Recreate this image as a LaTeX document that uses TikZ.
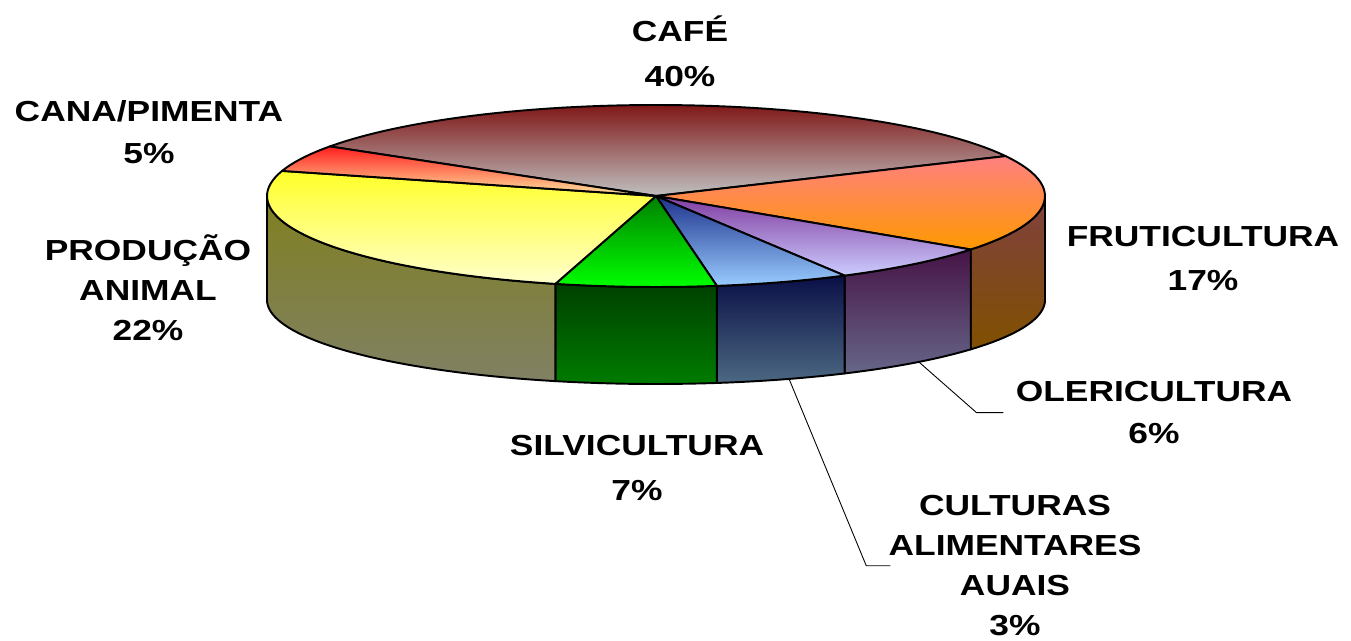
\documentclass[tikz,border=0pt]{standalone}
\usepackage{fontspec}
\setmainfont{Liberation Sans}
\newfontfamily\lblfont[FakeStretch=1.22]{Liberation Sans}

% slice colours (top of gradient A, bottom B)
\definecolor{cafeA}{RGB}{128,24,24}
\definecolor{cafeM}{RGB}{172,155,155}
\definecolor{cafeB}{RGB}{192,192,192}
\definecolor{frutA}{RGB}{255,128,128}
\definecolor{frutB}{RGB}{255,153,0}
\definecolor{frutSA}{RGB}{128,64,64}
\definecolor{frutSB}{RGB}{128,80,0}
\definecolor{oleA}{RGB}{128,60,160}
\definecolor{oleB}{RGB}{204,204,255}
\definecolor{oleSA}{RGB}{70,20,70}
\definecolor{oleSB}{RGB}{102,102,136}
\definecolor{culA}{RGB}{30,50,140}
\definecolor{culB}{RGB}{153,204,255}
\definecolor{culSA}{RGB}{10,15,70}
\definecolor{culSB}{RGB}{76,104,130}
\definecolor{silA}{RGB}{0,128,0}
\definecolor{silB}{RGB}{0,255,0}
\definecolor{silSA}{RGB}{0,64,0}
\definecolor{silSB}{RGB}{0,124,0}
\definecolor{prodA}{RGB}{255,255,40}
\definecolor{prodB}{RGB}{255,255,204}
\definecolor{prodSA}{RGB}{128,128,32}
\definecolor{prodSB}{RGB}{128,128,100}
\definecolor{canaA}{RGB}{255,30,30}
\definecolor{canaB}{RGB}{255,230,160}

\begin{document}
\begin{tikzpicture}[x=0.02cm,y=-0.02cm,
    slice/.style={draw=black,line width=1.1pt,line join=round},
    leader/.style={draw=black,line width=0.5pt},
    lbl/.style={font=\lblfont\bfseries\fontsize{16.5}{#1}\selectfont,
      align=center,anchor=north,inner sep=0pt,
      execute at begin node=\rule{0pt}{0.58cm}}]
  \useasboundingbox (0,0) rectangle (1351,641);

  % side faces (top rim: centre 656,196 radii 389x91; bottom rim: centre 656,300 radii 389x84)
  \draw [slice,top color=frutSA,bottom color=frutSB]
      plot [domain=0:-36,samples=20] ({656+389*cos(\x)},{196-91*sin(\x)})
      -- plot [domain=-36:0,samples=20] ({656+389*cos(\x)},{300-84*sin(\x)}) -- cycle;
  \draw [slice,top color=oleSA,bottom color=oleSB]
      plot [domain=-36:-61,samples=15] ({656+389*cos(\x)},{196-91*sin(\x)})
      -- plot [domain=-61:-36,samples=15] ({656+389*cos(\x)},{300-84*sin(\x)}) -- cycle;
  \draw [slice,top color=culSA,bottom color=culSB]
      plot [domain=-61:-81,samples=12] ({656+389*cos(\x)},{196-91*sin(\x)})
      -- plot [domain=-81:-61,samples=12] ({656+389*cos(\x)},{300-84*sin(\x)}) -- cycle;
  \draw [slice,top color=silSA,bottom color=silSB]
      plot [domain=-81:-105,samples=12] ({656+389*cos(\x)},{196-91*sin(\x)})
      -- plot [domain=-105:-81,samples=12] ({656+389*cos(\x)},{300-84*sin(\x)}) -- cycle;
  \draw [slice,top color=prodSA,bottom color=prodSB]
      plot [domain=-105:-180,samples=40] ({656+389*cos(\x)},{196-91*sin(\x)})
      -- plot [domain=-180:-105,samples=40] ({656+389*cos(\x)},{300-84*sin(\x)}) -- cycle;

  % top faces
  \coordinate (mid) at (656,196);
  \draw [slice,top color=cafeA,middle color=cafeM,bottom color=cafeB] (mid)
      -- plot [domain=147:26,samples=60] ({656+389*cos(\x)},{196-91*sin(\x)}) -- cycle;
  \draw [slice,top color=frutA,bottom color=frutB] (mid)
      -- plot [domain=26:-36,samples=30] ({656+389*cos(\x)},{196-91*sin(\x)}) -- cycle;
  \draw [slice,top color=oleA,bottom color=oleB] (mid)
      -- plot [domain=-36:-61,samples=15] ({656+389*cos(\x)},{196-91*sin(\x)}) -- cycle;
  \draw [slice,top color=culA,bottom color=culB] (mid)
      -- plot [domain=-61:-81,samples=12] ({656+389*cos(\x)},{196-91*sin(\x)}) -- cycle;
  \draw [slice,top color=silA,bottom color=silB] (mid)
      -- plot [domain=-81:-105,samples=12] ({656+389*cos(\x)},{196-91*sin(\x)}) -- cycle;
  \draw [slice,top color=prodA,bottom color=prodB] (mid)
      -- plot [domain=-105:-196,samples=45] ({656+389*cos(\x)},{196-91*sin(\x)}) -- cycle;
  \draw [slice,top color=canaA,bottom color=canaB] (mid)
      -- plot [domain=-196:-213,samples=10] ({656+389*cos(\x)},{196-91*sin(\x)}) -- cycle;

  % labels
  \node [lbl=25.6pt] (cafe)  at (680,15)   {CAFÉ\\40\%};
  \node [lbl=25pt]   (fruti) at (1203,226) {FRUTICULTURA\\17\%};
  \node [lbl=23.9pt] (oleri) at (1154,381) {OLERICULTURA\\6\%};
  \node [lbl=22.8pt] (cultu) at (1015,495) {CULTURAS\\ALIMENTARES\\AUAIS\\3\%};
  \node [lbl=25.6pt] (silvi) at (637,435)  {SILVICULTURA\\7\%};
  \node [lbl=23pt]   (prod)  at (148,234)  {PRODUÇÃO\\ANIMAL\\22\%};
  \node [lbl=23.9pt] (cana)  at (149,100)  {CANA/PIMENTA\\5\%};

  % leader lines
  \coordinate (olpt) at ({656+389*cos(-47.5)},{300-84*sin(-47.5)});
  \coordinate (cupt) at ({656+389*cos(-70)},{300-84*sin(-70)});
  \draw [leader] (olpt) -- ([xshift=-0.78cm]oleri.west) -- ([xshift=-0.24cm]oleri.west);
  \draw [leader] (cupt) -- ([xshift=-0.44cm]cultu.west) -- ([xshift=0.04cm]cultu.west);
\end{tikzpicture}
\end{document}
